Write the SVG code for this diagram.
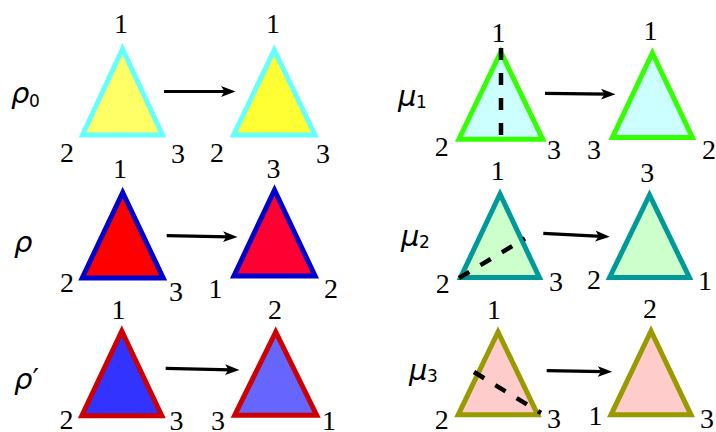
<svg xmlns="http://www.w3.org/2000/svg" width="716" height="432" viewBox="0 0 716 432">
<style>
.tri{stroke-width:5;stroke-linejoin:miter;stroke-miterlimit:10}
.num{font-family:'Liberation Serif','Times New Roman',serif;font-size:28px;text-anchor:middle;fill:#000}
.gr{font-family:'DejaVu Sans',sans-serif;font-size:29px;font-style:italic;fill:#000}
.sub{font-family:'DejaVu Sans',sans-serif;font-size:17px;font-style:normal;fill:#000}
.arr{stroke:#000;stroke-width:3.2;fill:none;marker-end:url(#ah)}
.dash{stroke:#000;stroke-width:4.5;stroke-dasharray:12 13;fill:none}
</style>
<defs>
<marker id="ah" markerUnits="userSpaceOnUse" markerWidth="16" markerHeight="12" viewBox="0 0 16 12" refX="6" refY="6" orient="auto">
<path d="M0,0.6 L14.5,6 L0,11.4 L3.5,6 Z" fill="#000"/>
</marker>
</defs>
<rect width="716" height="432" fill="#fff"/>

<g id="label-rho0"><text class="gr" x="11" y="103">ρ</text><text class="sub" x="29" y="107">0</text></g>
<g id="label-rho"><text class="gr" x="14" y="252">ρ</text></g>
<g id="label-rhop"><text class="gr" x="14" y="389">ρ<tspan font-style="normal">′</tspan></text></g>
<g id="label-mu1"><text class="gr" x="398" y="106">μ</text><text class="sub" x="416" y="108">1</text></g>
<g id="label-mu2"><text class="gr" x="401" y="246">μ</text><text class="sub" x="419" y="248">2</text></g>
<g id="label-mu3"><text class="gr" x="409" y="380">μ</text><text class="sub" x="427" y="382">3</text></g>

<g id="rho0-a">
<polygon class="tri" points="122.5,49 82.5,135 162.5,135" fill="#ffff66" stroke="#66ffff"/>
<text class="num" x="121" y="33">1</text><text class="num" x="67" y="162">2</text><text class="num" x="178" y="163">3</text>
</g>
<g id="rho0-b">
<polygon class="tri" points="274.3,50 233.6,135 315,135" fill="#ffff33" stroke="#66ffff"/>
<text class="num" x="273" y="33">1</text><text class="num" x="217" y="162">2</text><text class="num" x="323" y="163">3</text>
</g>
<g id="rho-a">
<polygon class="tri" points="122.7,192.5 82.2,278 163.2,278" fill="#ff0000" stroke="#0000cc"/>
<text class="num" x="120" y="178">1</text><text class="num" x="67" y="292">2</text><text class="num" x="176" y="301">3</text>
</g>
<g id="rho-b">
<polygon class="tri" points="274.5,190 233.9,276 315.1,276" fill="#ff0033" stroke="#0000cc"/>
<text class="num" x="273.5" y="178">3</text><text class="num" x="215.5" y="298">1</text><text class="num" x="331" y="298">2</text>
</g>
<g id="rhop-a">
<polygon class="tri" points="121.8,331 81.8,415.8 161.8,415.8" fill="#3333ff" stroke="#cc0000"/>
<text class="num" x="118.5" y="319">1</text><text class="num" x="66.5" y="429">2</text><text class="num" x="176.5" y="430">3</text>
</g>
<g id="rhop-b">
<polygon class="tri" points="275.7,332 234.7,415.2 316.7,415.2" fill="#6666ff" stroke="#cc0000"/>
<text class="num" x="275" y="319">2</text><text class="num" x="218" y="430">3</text><text class="num" x="329" y="430">1</text>
</g>

<g id="mu1-a">
<polygon class="tri" points="500.8,52 458.9,139.2 542.7,139.2" fill="#ccffff" stroke="#33ff00"/>
<text class="num" x="498.5" y="42">1</text><text class="num" x="441.7" y="156">2</text><text class="num" x="554" y="159">3</text>
</g>
<g id="mu1-b">
<polygon class="tri" points="652.4,53 612.4,137.5 692.4,137.5" fill="#ccffff" stroke="#33ff00"/>
<text class="num" x="650.5" y="40">1</text><text class="num" x="594" y="159">3</text><text class="num" x="709" y="159">2</text>
</g>
<g id="mu2-a">
<polygon class="tri" points="500,194 460.6,277.5 539.4,277.5" fill="#ccffcc" stroke="#009999"/>
<text class="num" x="497.7" y="180">1</text><text class="num" x="442.7" y="293">2</text><text class="num" x="556" y="291">3</text>
</g>
<g id="mu2-b">
<polygon class="tri" points="649.5,195 609.6,277.5 689.4,277.5" fill="#ccffcc" stroke="#009999"/>
<text class="num" x="647.3" y="182">3</text><text class="num" x="594" y="289">2</text><text class="num" x="705" y="290">1</text>
</g>
<g id="mu3-a">
<polygon class="tri" points="498,332 458.2,414.8 537.8,414.8" fill="#ffcccc" stroke="#999900"/>
<text class="num" x="494" y="319">1</text><text class="num" x="441.7" y="429">2</text><text class="num" x="554" y="428">3</text>
</g>
<g id="mu3-b">
<polygon class="tri" points="651,331 611,414.8 691,414.8" fill="#ffcccc" stroke="#999900"/>
<text class="num" x="650" y="318">2</text><text class="num" x="595.5" y="425">1</text><text class="num" x="707" y="428">3</text>
</g>

<g id="connectors">
<line class="arr" x1="164" y1="91.5" x2="227" y2="91.5"/>
<line class="arr" x1="166.7" y1="235.7" x2="229" y2="236.8"/>
<line class="arr" x1="165.7" y1="368.3" x2="231" y2="369.8"/>
<line class="arr" x1="545" y1="93.3" x2="607" y2="94.2"/>
<line class="arr" x1="543.3" y1="233.3" x2="601.3" y2="236.3"/>
<line class="arr" x1="546.7" y1="370.7" x2="603.7" y2="371.6"/>
<line class="dash" x1="501" y1="48" x2="501" y2="136"/>
<line class="dash" x1="459" y1="278" x2="525" y2="238.5"/>
<line class="dash" x1="474" y1="372" x2="541" y2="413"/>
</g>
</svg>
